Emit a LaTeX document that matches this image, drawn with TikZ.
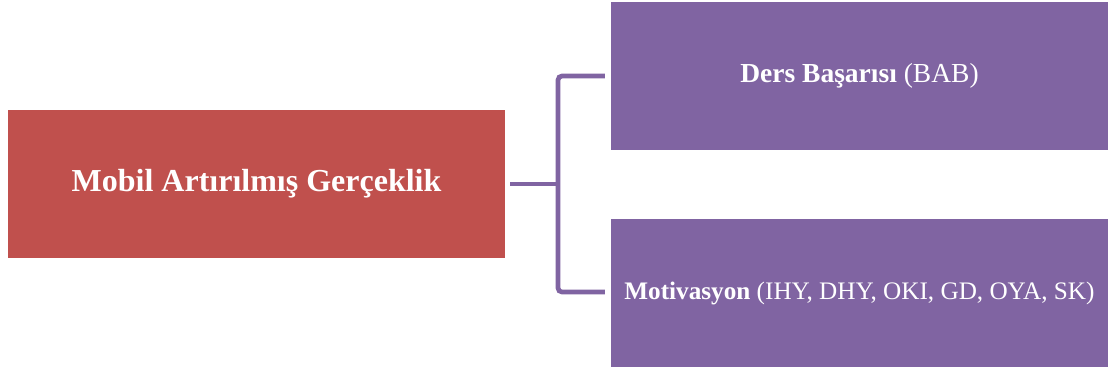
\documentclass[tikz,border=0pt]{standalone}
\usepackage{fontspec}
\setmainfont{Liberation Serif}
\definecolor{boxred}{HTML}{C0504D}
\definecolor{boxpurple}{HTML}{8064A2}
\begin{document}
\begin{tikzpicture}[x=1pt,y=-1pt,
  boxstyle/.style={draw=none,inner sep=0pt,text=white,align=center},
  redbox/.style={boxstyle,fill=boxred,minimum width=497pt,minimum height=148pt},
  purplebox/.style={boxstyle,fill=boxpurple,minimum width=497pt,minimum height=148pt},
  conn/.style={draw=boxpurple,line width=4.7pt,rounded corners=4pt}]
\useasboundingbox (0,0) rectangle (1110,372);
\node[redbox] (main) at (256.5,184) {\fontsize{32}{38}\selectfont\bfseries Mobil Artırılmış Gerçeklik};
\node[purplebox] (top) at (859.5,76) {\fontsize{27.5}{33}\selectfont\textbf{Ders Başarısı} (BAB)};
\node[purplebox] (bot) at (859.5,293) {\fontsize{25.2}{30}\selectfont\textbf{Motivasyon} (IHY, DHY, OKI, GD, OYA, SK)};
\coordinate (a) at ([xshift=5pt]main.east);
\coordinate (j) at (558,184);
\coordinate (t) at ([xshift=-6pt]top.west);
\coordinate (b) at ([xshift=-6pt,yshift=1pt]bot.west);
\draw[conn] (a) -- (j);
\draw[conn] (t) -- (t -| j) -- (b -| j) -- (b);
\end{tikzpicture}
\end{document}
